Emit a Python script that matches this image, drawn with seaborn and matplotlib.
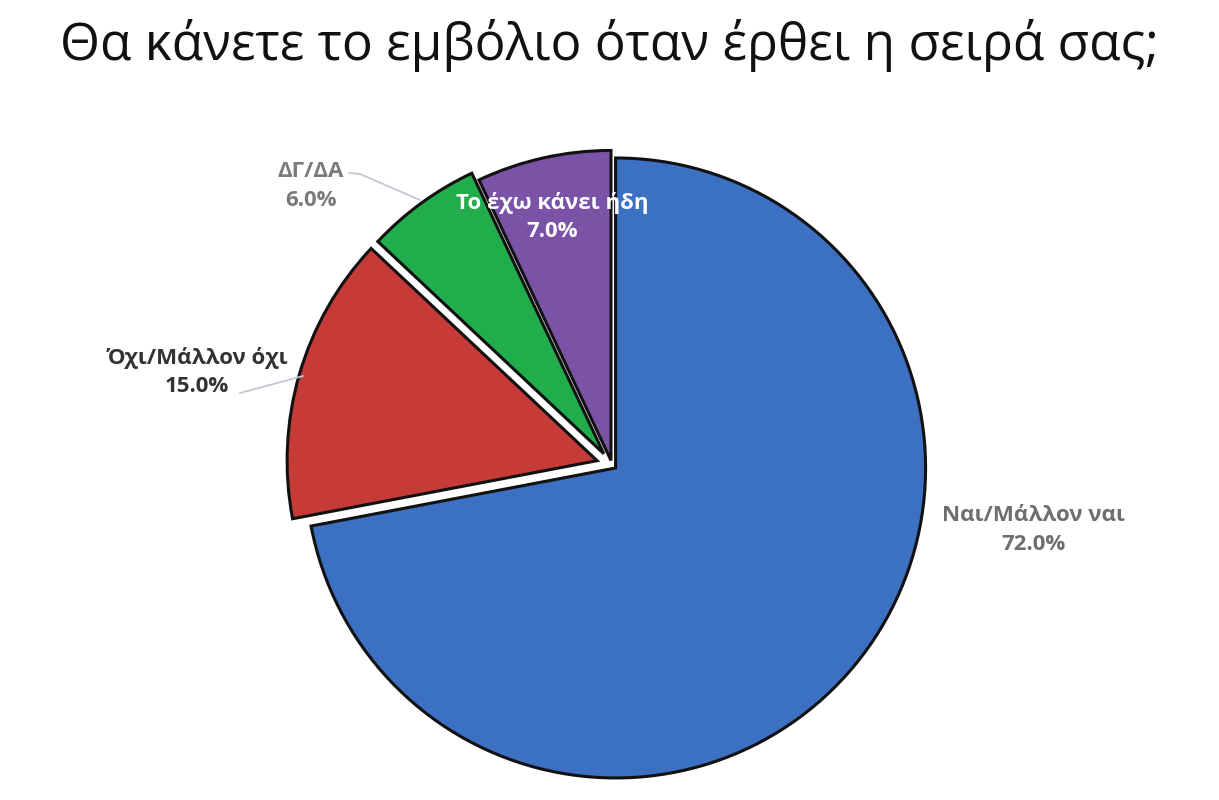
import matplotlib
matplotlib.use('Agg')
import matplotlib.pyplot as plt
import seaborn as sns
import numpy as np

# data
categories = ['Ναι/Μάλλον ναι', 'Όχι/Μάλλον όχι', 'ΔΓ/ΔΑ', 'Το έχω κάνει ήδη']
values = [72.0, 15.0, 6.0, 7.0]
slice_colors = ['#3b70c2', '#c63b37', '#22ad4c', '#7a52a6']
title = 'Θα κάνετε το εμβόλιο όταν έρθει η σειρά σας;'

sns.set_theme(style='white')
plt.rcParams['font.family'] = ['Open Sans', 'DejaVu Sans']

fig = plt.figure(figsize=(12.19, 8), dpi=100)
ax = fig.add_axes([0, 0, 1, 1])

wedges, _ = ax.pie(values, colors=slice_colors, startangle=90, counterclock=False,
                   explode=[0.015, 0.05, 0.045, 0.015], radius=1.0,
                   wedgeprops=dict(edgecolor='#111111', linewidth=2.2))

# pie centre (612, 465) px, radius ~310 px
R = 310
ax.set_aspect('auto')
ax.set_xlim(-612 / R, (1219 - 612) / R)
ax.set_ylim(-(800 - 465) / R, 465 / R)
ax.axis('off')


def px(x, y):
    return ((x - 612) / R, (465 - y) / R)


labels = [f'{c}\n{v:.1f}%' for c, v in zip(categories, values)]
leader = dict(arrowstyle='-', color='#c0c8d4', lw=1.3, shrinkA=0, shrinkB=0)

# Ναι/Μάλλον ναι
ax.text(*px(1033, 530), labels[0], ha='center', va='center', fontsize=16,
        fontweight='bold', color='#6e6e6e', linespacing=1.45)
# Όχι/Μάλλον όχι
ax.text(*px(197, 372), labels[1], ha='center', va='center', fontsize=16,
        fontweight='bold', color='#333333', linespacing=1.45)
ax.annotate('', xy=px(303, 376), xytext=px(240, 393), arrowprops=leader)
# ΔΓ/ΔΑ
ax.text(*px(311, 186), labels[2], ha='center', va='center', fontsize=16,
        fontweight='bold', color='#7a7a7a', linespacing=1.45)
ax.annotate('', xy=px(360, 174), xytext=px(349, 173), arrowprops=leader)
ax.annotate('', xy=px(420, 200), xytext=px(360, 174), arrowprops=leader)
# Το έχω κάνει ήδη (inside)
ax.text(*px(552, 217), labels[3], ha='center', va='center', fontsize=16,
        fontweight='bold', color='white', linespacing=1.45)

fig.text(0.5, 1 - 45 / 800, title, ha='center', va='center', fontsize=37, color='#111111')

fig.savefig('out.png', dpi=100, facecolor='white')
